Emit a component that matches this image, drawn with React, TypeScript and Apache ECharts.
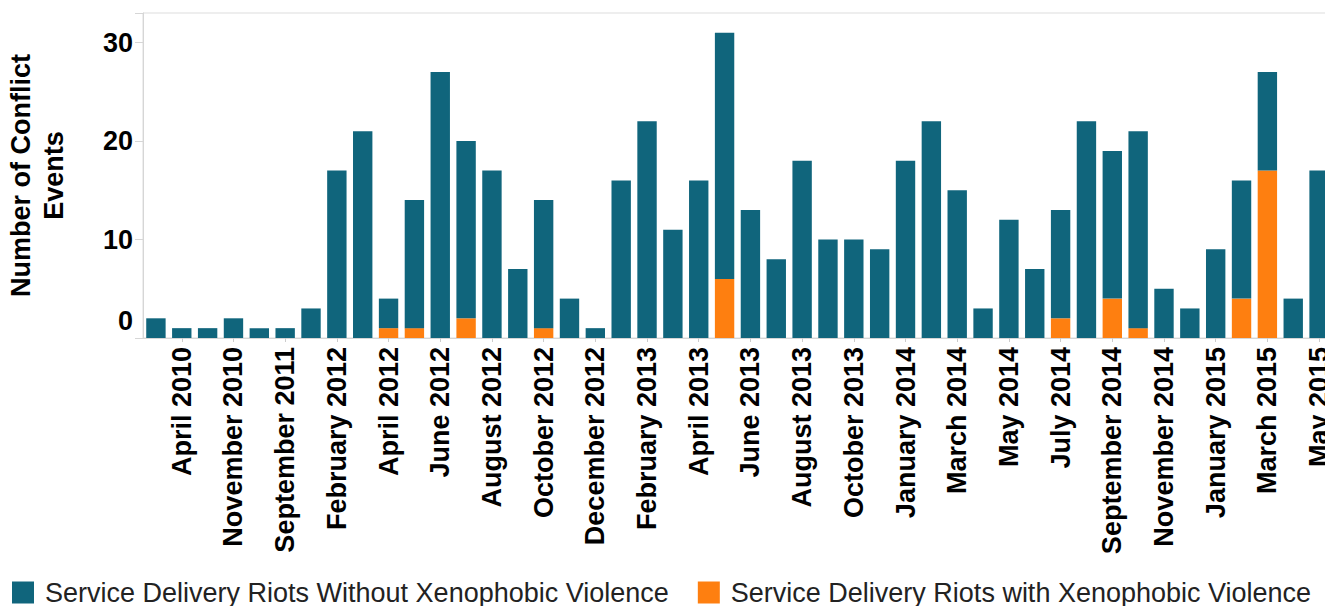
import React, { useEffect, useRef } from "react";
import * as echarts from "echarts";

const categories: string[] = [
  "March 2010", "April 2010", "July 2010", "November 2010", "March 2011", "September 2011",
  "November 2011", "February 2012", "March 2012", "April 2012", "May 2012", "June 2012",
  "July 2012", "August 2012", "September 2012", "October 2012", "November 2012", "December 2012",
  "January 2013", "February 2013", "March 2013", "April 2013", "May 2013", "June 2013",
  "July 2013", "August 2013", "September 2013", "October 2013", "November 2013", "January 2014",
  "February 2014", "March 2014", "April 2014", "May 2014", "June 2014", "July 2014",
  "August 2014", "September 2014", "October 2014", "November 2014", "December 2014", "January 2015",
  "February 2015", "March 2015", "April 2015", "May 2015",
];

const withoutXeno: number[] = [
  2, 1, 1, 2, 1, 1, 3, 17, 21, 3, 13, 27, 18, 17, 7, 13, 4, 1, 16, 22, 11, 16, 25,
  13, 8, 18, 10, 10, 9, 18, 22, 15, 3, 12, 7, 11, 22, 15, 20, 5, 3, 9, 12, 10, 4, 17,
];

const withXeno: number[] = [
  0, 0, 0, 0, 0, 0, 0, 0, 0, 1, 1, 0, 2, 0, 0, 1, 0, 0, 0, 0, 0, 0, 6,
  0, 0, 0, 0, 0, 0, 0, 0, 0, 0, 0, 0, 2, 0, 4, 1, 0, 0, 0, 4, 17, 0, 0,
];

const yTicks: number[] = [0, 10, 20, 30];

const seriesNames = [
  "Service Delivery Riots Without Xenophobic Violence",
  "Service Delivery Riots with Xenophobic Violence",
];

const TEAL = "#10657c";
const ORANGE = "#fe7f10";
const FONT = "'Liberation Sans', Arial, sans-serif";

export default function App() {
  const ref = useRef<HTMLDivElement>(null);

  useEffect(() => {
    if (!ref.current) return;
    const chart = echarts.init(ref.current, undefined, { renderer: "svg" });
    const showOdd = (i: number) => i % 2 === 1;
    chart.setOption({
      animation: false,
      textStyle: { fontFamily: FONT },
      grid: {
        left: 143,
        top: 13,
        right: -7,
        bottom: 268,
        outerBoundsMode: "none",
        containLabel: false,
        show: true,
        borderColor: "#dddddd",
        borderWidth: 1,
        backgroundColor: "transparent",
      },
      legend: {
        data: seriesNames,
        left: 12,
        top: 579,
        padding: 0,
        itemWidth: 22,
        itemHeight: 22,
        itemGap: 29,
        icon: "rect",
        textStyle: { fontFamily: FONT, fontSize: 27, color: "#222", padding: [0, 0, 0, 6] },
      },
      xAxis: {
        type: "category",
        data: categories,
        axisLine: { show: true, lineStyle: { color: "#d6d6d6", width: 1 } },
        axisTick: { show: true, interval: showOdd, alignWithLabel: true, length: 4, lineStyle: { color: "#cccccc" } },
        axisLabel: {
          interval: showOdd,
          rotate: 90,
          margin: 9,
          fontFamily: FONT,
          fontSize: 27,
          fontWeight: "bold",
          color: "#000",
        },
      },
      yAxis: {
        type: "value",
        min: 0,
        max: 33,
        interval: 10,
        name: "Number of Conflict\nEvents",
        nameLocation: "middle",
        nameRotate: 90,
        nameGap: 73,
        nameTextStyle: { fontFamily: FONT, fontSize: 27, fontWeight: "bold", color: "#000", lineHeight: 33 },
        axisLine: { show: true, lineStyle: { color: "#d6d6d6", width: 1 } },
        axisTick: { show: true, length: 8, lineStyle: { color: "#d6d6d6" } },
        splitLine: { show: false },
        axisLabel: {
          margin: 10,
          fontFamily: FONT,
          fontSize: 27,
          fontWeight: "bold",
          color: "#000",
          lineHeight: 34,
          formatter: (v: number) => (yTicks.includes(v) ? (v === 0 ? "0\n " : String(v)) : ""),
        },
      },
      series: [
        {
          name: seriesNames[1],
          type: "bar",
          stack: "total",
          data: withXeno,
          barCategoryGap: "25%",
          itemStyle: { color: ORANGE },
        },
        {
          name: seriesNames[0],
          type: "bar",
          stack: "total",
          data: withoutXeno,
          barCategoryGap: "25%",
          itemStyle: { color: TEAL },
        },
      ],
    });
    return () => chart.dispose();
  }, []);

  return (
    <div
      ref={ref}
      style={{ position: "absolute", left: 0, top: 0, width: 1325, height: 606, background: "#fff" }}
    />
  );
}
